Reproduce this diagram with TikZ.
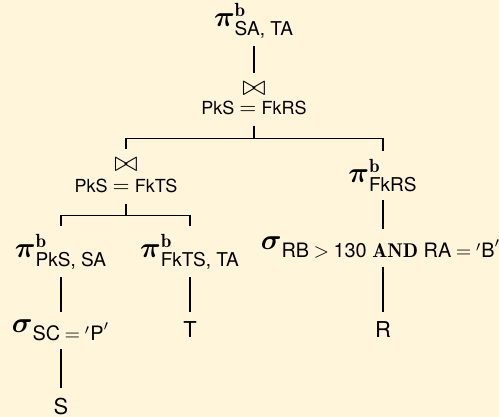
\documentclass[11pt,tikz,border=0pt]{standalone}
\usepackage{amsmath}
\usepackage{amssymb}
\usepackage{fontspec}
\setsansfont{TeX Gyre Heros}
\renewcommand{\familydefault}{\sfdefault}
\usepackage{xcolor}
\definecolor{paper}{RGB}{255,245,218}
\tikzset{
  >=latex,
}
\tikzstyle{op}=[anchor=base,inner sep=5pt]
\tikzstyle{projop}=[op,inner sep=4pt,font=\fontsize{13.6}{16}\selectfont]
\tikzstyle{selop}=[op,inner sep=4pt,font=\fontsize{14.2}{16}\selectfont]
\tikzstyle{joinop}=[inner sep=4pt,font=\Large]
\tikzstyle{cond}=[op,font=\footnotesize]
\tikzstyle{edge}=[line width=.75pt]
\tikzstyle{every node}=[font=\normalsize]
\newcommand{\bproj}[1]{\boldsymbol{\pi}^{\mathbf{b}}_{\text{#1}}}
\newcommand{\bsel}[1]{\boldsymbol{\sigma}_{#1}}

\begin{document}
\begin{tikzpicture}[x=.5pt,y=-.5pt]
    \fill[paper] (0,0) rectangle (499,417);
    \useasboundingbox (0,0) rectangle (499,417);
    % root
    \node[projop] (piTop) at (254,27) {$\bproj{SA, TA}$};
    \node[joinop] (join1) at (254,88.5) {$\bowtie$};
    \node[cond] (cond1) at (254,115) {PkS {\normalsize$=$} FkRS};
    % left branch
    \node[joinop] (join2) at (126,164.5) {$\bowtie$};
    \node[cond] (cond2) at (126,193) {PkS {\normalsize$=$} FkTS};
    \node[projop] (piL) at (61,258) {$\bproj{PkS, SA}$};
    \node[projop] (piM) at (190,258) {$\bproj{FkTS, TA}$};
    \node[selop] (sigL) at (61,333) {$\bsel{\text{SC}\:{=}\:{}^\prime\text{P}^\prime}$};
    \node[op] (S) at (61,415) {S};
    \node[op] (T) at (190,338) {T};
    % right branch
    \node[projop] (piR) at (383,183) {$\bproj{FkRS}$};
    \node[selop] (sigR) at (381,250)
      {$\bsel{\text{RB}\:{>}\:\text{130 }\mathbf{AND}\text{ RA}\:{=}\:{}^\prime\text{B}^\prime}$};
    \node[op] (R) at (383,338) {R};

    \draw[edge] (piTop.south) -- (join1.north);
    \draw[edge] (cond1.south) -- ++(0,13) -| (join2.north);
    \draw[edge] (cond1.south) -- ++(0,13) -| (piR.north);
    \draw[edge] (cond2.south) -- ++(0,12) -| (piL.north);
    \draw[edge] (cond2.south) -- ++(0,12) -| (piM.north);
    \draw[edge] (piL.south) -- (sigL.north);
    \draw[edge] (sigL.south) -- (S.north);
    \draw[edge] (piM.south) -- (T.north);
    \draw[edge] (piR.south) -- (piR.south |- sigR.north);
    \draw[edge] (R.north |- sigR.south) -- (R.north);
\end{tikzpicture}
\end{document}
